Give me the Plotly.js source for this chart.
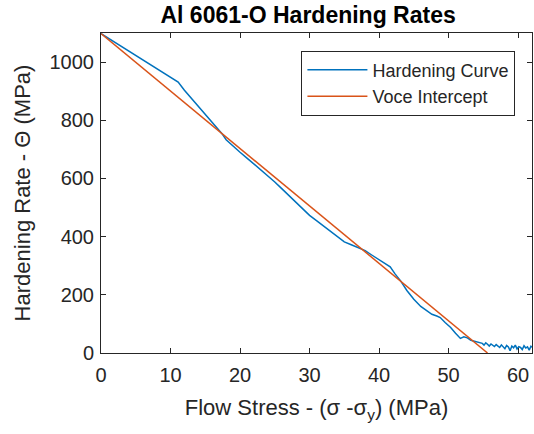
<!DOCTYPE html>
<html>
<head>
<meta charset="utf-8">
<script src="https://cdn.plot.ly/plotly-3.0.1.min.js"></script>
<style>html,body{margin:0;padding:0;background:#fff;}#chart{width:534px;height:434px;}</style>
</head>
<body>
<div id="chart"></div>
<script>
var curveX = [0, 5, 8, 11.1, 12, 13, 14, 15, 16, 17, 17.5, 18, 19, 20, 21, 22, 23, 24, 25, 26, 27, 28, 29, 30, 31, 32, 33, 34, 35, 36, 37, 38, 39, 40, 41, 41.6, 42.3, 43.1, 44, 45, 46, 47, 47.6, 48.3, 48.8, 49.5, 50.3, 51, 51.7, 52.2, 52.7, 53.2, 53.8, 54.3, 54.6,
  54.85, 55.1, 55.35, 55.6, 55.85, 56.1, 56.35, 56.6, 56.85, 57.1, 57.35, 57.6, 57.85, 58.1, 58.35, 58.6, 58.85, 59.1, 59.35, 59.6, 59.85, 60.1, 60.35, 60.6, 60.85, 61.1, 61.35, 61.6, 61.85, 62];
var curveY = [1098, 1022, 977, 931, 903, 875, 847, 819, 791, 765, 751, 733, 710, 690, 670, 650, 630, 608, 588, 565, 542, 518, 495, 473, 455, 437, 418, 398, 382, 372, 363, 352, 336, 320, 305, 296, 272, 248, 215, 185, 160, 143, 133, 127, 122, 105, 88, 68, 50, 56, 52, 44, 40, 38, 36,
  33, 27, 35, 30, 24, 31, 26, 22, 29, 25, 19, 28, 23, 15, 26, 21, 8, 24, 18, 27, 14, 22, 19, 12, 25, 17, 21, 10, 23, 20];
var voceX = [0, 55.6];
var voceY = [1098, 0];
var seriesNames = ["Hardening Curve", "Voce Intercept"];
var xTicks = [0, 10, 20, 30, 40, 50, 60];
var yTicks = [0, 200, 400, 600, 800, 1000];

var axisCol = '#262626';
var traces = [
  {x: curveX, y: curveY, mode: 'lines', name: seriesNames[0], line: {color: '#0072BD', width: 1.5}},
  {x: voceX, y: voceY, mode: 'lines', name: seriesNames[1], line: {color: '#D95319', width: 1.5}}
];
var layout = {
  width: 534, height: 434,
  margin: {l: 101, r: 2, t: 33, b: 81},
  paper_bgcolor: '#fff', plot_bgcolor: '#fff',
  font: {family: 'Liberation Sans, Arial, sans-serif', color: axisCol},
  title: {text: '<b>Al 6061-O Hardening Rates</b>', font: {size: 23, color: '#000'}, x: 0.577, xanchor: 'center', y: 0.965, yanchor: 'middle'},
  showlegend: true,
  legend: {x: 0.465, y: 0.945, xanchor: 'left', yanchor: 'top', bgcolor: '#fff', bordercolor: axisCol, borderwidth: 1,
    font: {size: 18, color: axisCol}, itemwidth: 60, tracegroupgap: 0},
  xaxis: {range: [0, 62], tickvals: xTicks, ticktext: xTicks.map(String), ticks: 'inside', ticklen: 5, tickcolor: axisCol,
    showline: true, linecolor: axisCol, linewidth: 1, mirror: 'ticks', showgrid: false, zeroline: false,
    tickfont: {size: 20, color: axisCol}, ticklabelstandoff: 4,
    title: {text: 'Flow Stress - (\u03C3 -\u03C3<sub>y</sub>) (MPa)', font: {size: 22, color: axisCol}, standoff: 14}},
  yaxis: {range: [0, 1100], tickvals: yTicks, ticktext: yTicks.map(String), ticks: 'inside', ticklen: 5, tickcolor: axisCol,
    showline: true, linecolor: axisCol, linewidth: 1, mirror: 'ticks', showgrid: false, zeroline: false,
    tickfont: {size: 20, color: axisCol}, ticklabelstandoff: 2,
    title: {text: 'Hardening Rate - \u0398 (MPa)', font: {size: 22, color: axisCol}, standoff: 12}}
};
Plotly.newPlot('chart', traces, layout, {displayModeBar: false, staticPlot: true});
</script>
</body>
</html>
